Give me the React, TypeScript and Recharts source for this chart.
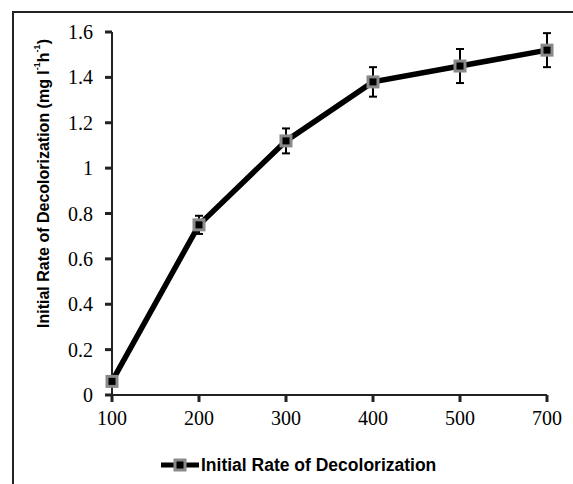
import { ErrorBar, Legend, Line, LineChart, XAxis, YAxis } from "recharts";

// dye concentration (mg/l) vs initial decolorization rate
const doses = ["100", "200", "300", "400", "500", "700"];
const rates = [0.06, 0.75, 1.12, 1.38, 1.45, 1.52];
const errors = [0, 0.04, 0.055, 0.065, 0.075, 0.075];
const yTicks = [0, 0.2, 0.4, 0.6, 0.8, 1, 1.2, 1.4, 1.6];
const seriesName = "Initial Rate of Decolorization";

const data = doses.map((dose, i) => ({ dose, rate: rates[i], err: errors[i] }));

const AXIS = "#222";
const MARKER_EDGE = "#8a8a8a";
const sans = "'Liberation Sans', Arial, sans-serif";
const serif = "'Liberation Serif', 'Times New Roman', serif";

function SquareDot(props: any) {
  const { cx, cy, index } = props;
  if (cx == null || cy == null) return null;
  return (
    <rect
      key={`dot-${index}`}
      x={cx - 5}
      y={cy - 5}
      width={10}
      height={10}
      fill="#000"
      stroke={MARKER_EDGE}
      strokeWidth={3}
    />
  );
}

function YLabel(props: any) {
  const vb = props.viewBox || {};
  const cx = (vb.x ?? 62) - 19;
  const cy = (vb.y ?? 32) + (vb.height ?? 363) / 2 - 30;
  return (
    <text
      x={cx}
      y={cy}
      transform={`rotate(-90, ${cx}, ${cy})`}
      textAnchor="middle"
      dominantBaseline="central"
      fontFamily={sans}
      fontWeight="bold"
      fontSize={16}
      fill="#000"
    >
      {seriesName} (mg l
      <tspan fontSize={9} dy={-6}>-1</tspan>
      <tspan dy={6}>h</tspan>
      <tspan fontSize={9} dy={-6}>-1</tspan>
      <tspan dy={6}>)</tspan>
    </text>
  );
}

function LegendContent() {
  return (
    <div style={{ display: "flex", alignItems: "center", marginLeft: 161 }}>
      <svg width={40} height={16}>
        <line x1={0} y1={8} x2={38} y2={8} stroke="#000" strokeWidth={5} />
        <rect x={14} y={3} width={10} height={10} fill="#000" stroke={MARKER_EDGE} strokeWidth={3} />
      </svg>
      <span style={{ fontFamily: sans, fontWeight: "bold", fontSize: 17.5, color: "#000", lineHeight: "20px" }}>
        {seriesName}
      </span>
    </div>
  );
}

export default function App() {
  return (
    <div style={{ position: "absolute", left: 0, top: 0, width: 573, height: 484, background: "#fff", overflow: "hidden" }}>
      <div
        style={{
          position: "absolute",
          left: 12,
          top: 11,
          width: 600,
          height: 500,
          borderLeft: `2.5px solid ${AXIS}`,
          borderTop: `2.5px solid ${AXIS}`,
        }}
      />
      <LineChart width={573} height={484} data={data} margin={{ top: 32, right: 26, bottom: 59, left: 62 }}>
        <XAxis
          dataKey="dose"
          interval={0}
          tickSize={7}
          tickMargin={9}
          height={30}
          axisLine={{ stroke: AXIS, strokeWidth: 2 }}
          tickLine={{ stroke: AXIS, strokeWidth: 3 }}
          tick={{ fontFamily: serif, fontSize: 20, fill: "#000" }}
        />
        <YAxis
          domain={[0, 1.6]}
          ticks={yTicks}
          width={50}
          tickSize={7}
          tickMargin={12}
          axisLine={{ stroke: AXIS, strokeWidth: 2 }}
          tickLine={{ stroke: AXIS, strokeWidth: 3 }}
          tick={{ fontFamily: serif, fontSize: 20, fill: "#000" }}
          label={<YLabel />}
        />
        <Legend
          verticalAlign="middle"
          content={<LegendContent />}
          wrapperStyle={{ left: 0, top: 455, width: 573, height: 20 }}
        />
        <Line
          dataKey="rate"
          name={seriesName}
          stroke="#000"
          strokeWidth={5.5}
          dot={<SquareDot />}
          activeDot={false}
          isAnimationActive={false}
        >
          <ErrorBar dataKey="err" direction="y" width={4} stroke="#000" strokeWidth={2} />
        </Line>
      </LineChart>
    </div>
  );
}
